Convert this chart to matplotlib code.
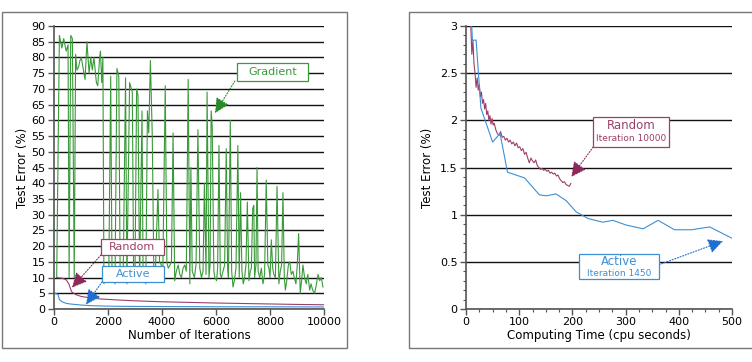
import matplotlib
matplotlib.use("Agg")
import matplotlib.pyplot as plt
from matplotlib.patches import Rectangle
from matplotlib.ticker import MultipleLocator

# ---- left panel data (iterations vs test error %) ----
grad_iter = [100, 200, 290, 360, 450, 520, 560, 620, 680, 750, 800, 850, 910, 960,
             1010, 1070, 1150, 1220, 1300, 1360, 1420, 1480, 1570, 1620, 1690, 1720,
             1770, 1810, 1850, 1900, 1960, 2030, 2100, 2150, 2200, 2260, 2330, 2400,
             2450, 2500, 2560, 2650, 2700, 2800, 2900, 2950, 3000, 3060, 3110, 3170,
             3260, 3300, 3350, 3400, 3460, 3510, 3570, 3640, 3700, 3760, 3850, 3910,
             3970, 4030, 4120, 4180, 4230, 4300, 4350, 4410, 4470, 4530, 4600, 4660,
             4720, 4780, 4840, 4900, 4970, 5030, 5070, 5120, 5200, 5260, 5330, 5400,
             5460, 5520, 5570, 5630, 5670, 5740, 5780, 5820, 5860, 5920, 5960, 6020,
             6060, 6110, 6160, 6200, 6260, 6320, 6380, 6430, 6460, 6530, 6580, 6630,
             6680, 6740, 6810, 6860, 6910, 6960, 7010, 7060, 7110, 7160, 7220, 7270,
             7310, 7360, 7400, 7430, 7480, 7520, 7560, 7620, 7680, 7740, 7800, 7860,
             7920, 7960, 8000, 8050, 8100, 8140, 8200, 8260, 8330, 8380, 8430, 8480,
             8530, 8570, 8620, 8680, 8730, 8790, 8850, 8900, 8960, 9010, 9060, 9120,
             9170, 9220, 9280, 9340, 9400, 9470, 9520, 9580, 9650, 9700, 9780, 9840,
             9900, 9960]
grad_err = [10, 87, 83, 86, 82, 84, 10, 87, 86, 10, 81, 76, 77, 79,
            80, 77, 73, 85, 75, 80, 76, 80, 72, 71, 80, 82,
            72, 80, 8, 12, 9, 11, 74, 10, 13, 8, 76.5, 74,
            10, 12, 9, 73.5, 8, 72, 69, 10, 11, 70, 68, 9,
            63, 10, 12, 8, 63, 56, 79, 55, 10, 13, 38, 15,
            14, 12, 71, 15, 13, 14, 15, 56, 9, 12, 14, 11,
            10, 13, 14, 12, 73, 8, 45, 12, 10, 14, 57, 13,
            10, 12, 40, 11, 69, 10, 14, 63, 58, 12, 10, 9,
            13, 52, 11, 10, 12, 14, 51, 13, 10, 60, 12, 7,
            9, 13, 52, 10, 37, 12, 8, 10, 14, 34, 9, 12,
            13, 32, 33, 10, 14, 45, 12, 10, 13, 8, 11, 41,
            14, 13, 10, 22, 13, 11, 10, 39, 8, 12, 14, 37,
            10, 6, 9, 14, 15, 11, 12, 10, 8, 14, 24, 5,
            9, 14, 10, 8, 11, 6, 8, 6, 5, 7, 11, 9,
            10, 7]

rand_iter = [100, 300, 450, 550, 650, 800, 1000, 1300, 1700, 2300, 3000, 4000, 5000,
             6000, 7000, 8000, 9000, 10000]
rand_err = [10, 9.8, 9.3, 8.0, 5.5, 4.6, 4.0, 3.6, 3.2, 2.9, 2.6, 2.3, 2.1,
            1.9, 1.75, 1.6, 1.45, 1.35]

act_iter = [50, 150, 200, 300, 450, 600, 830, 1100, 1400, 1800, 2500, 3500, 5000,
            6500, 8000, 10000]
act_err = [5.0, 4.6, 3.0, 2.3, 1.8, 1.6, 1.4, 1.2, 1.05, 0.95, 0.85, 0.8, 0.75,
           0.7, 0.7, 0.65]

# ---- right panel data (cpu seconds vs test error %) ----
act_time = [6, 10, 12, 19, 28, 50, 64, 78, 110, 138, 151, 169, 188, 207, 229, 257,
            276, 301, 333, 361, 392, 424, 458, 500]
act_time_err = [5.0, 3.1, 2.85, 2.85, 2.13, 1.77, 1.86, 1.45, 1.39, 1.21, 1.20, 1.22,
                1.15, 1.03, 0.96, 0.92, 0.94, 0.89, 0.85, 0.94, 0.84, 0.84, 0.87, 0.75]

rand_time = [6, 9, 11, 13, 15, 17, 19, 21, 23, 25, 27, 29, 31, 33, 35, 37, 39, 41,
             43, 45, 47, 49, 51, 53, 56, 59, 62, 65, 68, 71, 74, 77, 80, 83, 86, 89,
             92, 95, 98, 101, 104, 107, 110, 113, 116, 119, 122, 125, 128, 131, 134,
             137, 140, 143, 146, 149, 152, 155, 158, 161, 164, 167, 170, 173, 176,
             179, 182, 185, 188, 191, 194, 197]
rand_time_err = [4.5, 3.0, 2.7, 2.85, 2.6, 2.5, 2.35, 2.45, 2.32, 2.38, 2.25, 2.3,
                 2.18, 2.22, 2.12, 2.18, 2.06, 2.1, 2.0, 2.05, 1.96, 2.02, 1.95, 1.97,
                 1.9, 1.86, 1.84, 1.88, 1.82, 1.83, 1.79, 1.81, 1.77, 1.79, 1.75,
                 1.77, 1.73, 1.76, 1.71, 1.72, 1.68, 1.7, 1.64, 1.66, 1.6, 1.55, 1.6,
                 1.57, 1.55, 1.58, 1.52, 1.5, 1.48, 1.49, 1.47, 1.48, 1.46, 1.47,
                 1.44, 1.45, 1.43, 1.44, 1.41, 1.42, 1.38, 1.36, 1.34, 1.35, 1.32,
                 1.31, 1.30, 1.33]

GREEN = "#3a9a3a"
PURPLE = "#9c3f6a"
BLUE = "#3d8fd4"
GRID = "#111111"
SPINE = "#555555"

plt.rcParams["font.family"] = "DejaVu Sans"

fig = plt.figure(figsize=(7.52, 3.62), dpi=100, facecolor="white")

# panel frames
W, H = 752.0, 362.0
fig.patches.append(Rectangle((2 / W, 1 - 348 / H), 345 / W, 336 / H, transform=fig.transFigure,
                             fill=False, edgecolor="#777777", linewidth=1.0))
fig.patches.append(Rectangle((409 / W, 1 - 348 / H), 350 / W, 336 / H, transform=fig.transFigure,
                             fill=False, edgecolor="#777777", linewidth=1.0))

ax1 = fig.add_axes([54 / W, 1 - 309 / H, 270 / W, 283 / H])
ax2 = fig.add_axes([466 / W, 1 - 309 / H, 266 / W, 283 / H])


def style(ax):
    for s in ("top", "right"):
        ax.spines[s].set_visible(False)
    for s in ("left", "bottom"):
        ax.spines[s].set_color(SPINE)
        ax.spines[s].set_linewidth(1.2)
    ax.tick_params(axis="both", which="major", direction="out", length=4, width=1,
                   color=SPINE, labelsize=8, pad=2)
    ax.tick_params(axis="both", which="minor", direction="out", length=2.5, width=0.8,
                   color=SPINE)
    ax.yaxis.grid(True, which="major", color=GRID, linewidth=1.0)
    ax.set_axisbelow(True)


def arrow(ax, tip, start, color):
    ax.annotate("", xy=tip, xytext=start, zorder=6,
                arrowprops=dict(arrowstyle="-|>,head_length=0.9,head_width=0.45",
                                color=color, linestyle=(0, (1, 1.5)), linewidth=0.8,
                                shrinkA=0, shrinkB=0))


def box(ax, x0, x1, y0, y1, color):
    ax.add_patch(Rectangle((x0, y0), x1 - x0, y1 - y0, facecolor="white",
                           edgecolor=color, linewidth=0.9, zorder=7))


# ---- left panel ----
ax1.plot(grad_iter, grad_err, color=GREEN, linewidth=0.8, zorder=3)
ax1.plot(rand_iter, rand_err, color=PURPLE, linewidth=0.8, zorder=4)
ax1.plot(act_iter, act_err, color=BLUE, linewidth=0.8, zorder=4)
ax1.set_xlim(0, 10000)
ax1.set_ylim(0, 90)
ax1.xaxis.set_major_locator(MultipleLocator(2000))
ax1.yaxis.set_major_locator(MultipleLocator(5))
style(ax1)
ax1.set_xlabel("Number of Iterations", fontsize=8.5, labelpad=1)
ax1.set_ylabel("Test Error (%)", fontsize=8.5, labelpad=2)

arrow(ax1, (5963, 62.3), (6700, 72.5), "#2a8a2a")
box(ax1, 6778, 9407, 72.5, 78.2, GREEN)
ax1.text(8092, 75.4, "Gradient", color=GREEN, fontsize=8, ha="center", va="center", zorder=8)

arrow(ax1, (667, 6.8), (1741, 17.2), "#8b2a5a")
box(ax1, 1741, 4074, 17.2, 22.3, PURPLE)
ax1.text(2907, 19.8, "Random", color=PURPLE, fontsize=8, ha="center", va="center", zorder=8)

arrow(ax1, (1185, 1.4), (1778, 8.6), "#1f6fd0")
box(ax1, 1778, 4074, 8.6, 13.7, BLUE)
ax1.text(2926, 11.2, "Active", color=BLUE, fontsize=8, ha="center", va="center", zorder=8)

# ---- right panel ----
ax2.plot(act_time, act_time_err, color=BLUE, linewidth=0.8, zorder=4)
ax2.plot(rand_time, rand_time_err, color=PURPLE, linewidth=0.8, zorder=3)
ax2.set_xlim(0, 500)
ax2.set_ylim(0, 3)
ax2.xaxis.set_major_locator(MultipleLocator(100))
ax2.xaxis.set_minor_locator(MultipleLocator(25))
ax2.yaxis.set_major_locator(MultipleLocator(0.5))
ax2.yaxis.set_minor_locator(MultipleLocator(0.1))
ax2.yaxis.set_major_formatter(plt.FuncFormatter(lambda v, p: f"{v:g}"))
style(ax2)
ax2.set_xlabel("Computing Time (cpu seconds)", fontsize=8.5, labelpad=1)
ax2.set_ylabel("Test Error (%)", fontsize=8.5, labelpad=4)

arrow(ax2, (198, 1.40), (239, 1.717), "#8b2a5a")
box(ax2, 239, 382, 1.717, 2.035, PURPLE)
ax2.text(310, 1.94, "Random", color=PURPLE, fontsize=8.5, ha="center", va="center", zorder=8)
ax2.text(310, 1.81, "Iteration 10000", color=PURPLE, fontsize=6.5, ha="center",
         va="center", zorder=8)

arrow(ax2, (483, 0.72), (363, 0.47), "#1f6fd0")
box(ax2, 212, 363, 0.318, 0.583, BLUE)
ax2.text(288, 0.505, "Active", color=BLUE, fontsize=8.5, ha="center", va="center", zorder=8)
ax2.text(288, 0.38, "Iteration 1450", color=BLUE, fontsize=6.5, ha="center",
         va="center", zorder=8)

fig.savefig("out.png", dpi=100, facecolor="white")
